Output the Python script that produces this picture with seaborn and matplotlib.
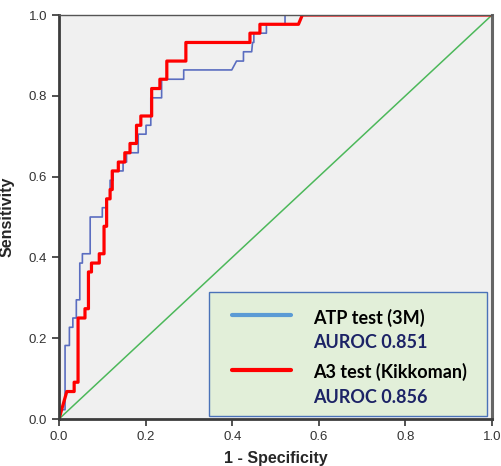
import numpy as np
import pandas as pd
import seaborn as sns
import matplotlib.pyplot as plt
from matplotlib.patches import Rectangle
from matplotlib.lines import Line2D

# ROC curve vertices (1 - specificity, sensitivity)
atp_fpr = [0.0, 0.0, 0.014, 0.014, 0.024, 0.024, 0.032, 0.032, 0.040, 0.040,
           0.048, 0.048, 0.054, 0.054, 0.072, 0.072, 0.100, 0.100, 0.109, 0.109,
           0.118, 0.118, 0.125, 0.125, 0.148, 0.148, 0.156, 0.156, 0.183, 0.183,
           0.201, 0.201, 0.212, 0.212, 0.237, 0.237, 0.288, 0.288, 0.399, 0.410,
           0.426, 0.426, 0.445, 0.447, 0.450, 0.450, 0.479, 0.479, 0.522, 0.522,
           1.0]
atp_tpr = [0.0, 0.023, 0.023, 0.182, 0.182, 0.227, 0.227, 0.250, 0.250, 0.295,
           0.295, 0.386, 0.386, 0.409, 0.409, 0.500, 0.500, 0.523, 0.523, 0.545,
           0.545, 0.591, 0.591, 0.614, 0.614, 0.636, 0.636, 0.659, 0.659, 0.705,
           0.705, 0.727, 0.727, 0.795, 0.795, 0.841, 0.841, 0.864, 0.864, 0.886,
           0.886, 0.909, 0.909, 0.932, 0.932, 0.955, 0.955, 0.977, 0.977, 1.0,
           1.0]

a3_fpr = [0.0, 0.018, 0.035, 0.035, 0.044, 0.044, 0.060, 0.060, 0.068, 0.068,
          0.075, 0.075, 0.093, 0.093, 0.104, 0.104, 0.110, 0.110, 0.118, 0.118,
          0.123, 0.123, 0.137, 0.137, 0.152, 0.152, 0.164, 0.164, 0.179, 0.179,
          0.189, 0.189, 0.214, 0.214, 0.233, 0.233, 0.249, 0.249, 0.293, 0.293,
          0.441, 0.441, 0.464, 0.464, 0.553, 0.562, 1.0]
a3_tpr = [0.0, 0.068, 0.068, 0.091, 0.091, 0.250, 0.250, 0.273, 0.273, 0.364,
          0.364, 0.386, 0.386, 0.409, 0.409, 0.477, 0.477, 0.545, 0.545, 0.568,
          0.568, 0.614, 0.614, 0.636, 0.636, 0.659, 0.659, 0.682, 0.682, 0.727,
          0.727, 0.750, 0.750, 0.818, 0.818, 0.841, 0.841, 0.886, 0.886, 0.932,
          0.932, 0.955, 0.955, 0.977, 0.977, 1.0, 1.0]

ref_line = [0.0, 1.0]

labels = ["ATP test (3M)", "A3 test (Kikkoman)"]
auroc = ["AUROC 0.851", "AUROC 0.856"]
ticks = [0.0, 0.2, 0.4, 0.6, 0.8, 1.0]

df_atp = pd.DataFrame({"fpr": atp_fpr, "tpr": atp_tpr})
df_a3 = pd.DataFrame({"fpr": a3_fpr, "tpr": a3_tpr})
df_ref = pd.DataFrame({"fpr": ref_line, "tpr": ref_line})

sns.set_style("white")
plt.rcParams["font.family"] = ["Liberation Sans", "DejaVu Sans"]

fig = plt.figure(figsize=(5.02, 4.66), dpi=100)
ax = fig.add_axes([59 / 502, 47 / 466, 433 / 502, 404 / 466])
ax.set_facecolor("#f0f0f0")

sns.lineplot(data=df_ref, x="fpr", y="tpr", ax=ax, color="#4cb85a",
             linewidth=1.1, sort=False, estimator=None)
sns.lineplot(data=df_atp, x="fpr", y="tpr", ax=ax, color="#5a6dc0",
             linewidth=1.2, sort=False, estimator=None)
sns.lineplot(data=df_a3, x="fpr", y="tpr", ax=ax, color="#ff0000",
             linewidth=2.3, sort=False, estimator=None)

ax.set_xlim(0, 1)
ax.set_ylim(0, 1)
ax.set_xticks(ticks)
ax.set_yticks(ticks)
ax.set_xticklabels([f"{t:.1f}" for t in ticks])
ax.set_yticklabels([f"{t:.1f}" for t in ticks])
ax.tick_params(direction="out", length=5, width=1.2, color="#333333",
               labelsize=9.5, labelcolor="#333333", bottom=True, left=True)
ax.set_xlabel("1 - Specificity", fontsize=11.5, fontweight="bold", labelpad=6)
ax.set_ylabel("Sensitivity", fontsize=11.5, fontweight="bold", labelpad=10)

for side in ["left", "bottom"]:
    ax.spines[side].set_linewidth(2)
    ax.spines[side].set_color("#3c3c3c")
ax.spines["top"].set_linewidth(1)
ax.spines["top"].set_color("#555555")
ax.spines["right"].set_linewidth(2.2)
ax.spines["right"].set_color("#666666")

# custom legend box
box = Rectangle((0.346, 0.007), 0.642, 0.307, transform=ax.transAxes,
                facecolor="#e2efd9", edgecolor="#4a72b8", linewidth=1.0,
                zorder=5)
ax.add_patch(box)
line_colors = ["#5b9bd5", "#ff0000"]
line_y = [0.257, 0.121]
text_y = [0.250, 0.189, 0.116, 0.054]
for i in range(2):
    ax.add_line(Line2D([0.400, 0.535], [line_y[i], line_y[i]],
                       transform=ax.transAxes, color=line_colors[i],
                       linewidth=3, zorder=6))
    ax.text(0.586, text_y[2 * i], labels[i], transform=ax.transAxes,
            fontsize=13, fontweight="bold", color="black", va="center",
            family=["Lato", "DejaVu Sans"], zorder=6)
    ax.text(0.586, text_y[2 * i + 1], auroc[i], transform=ax.transAxes,
            fontsize=13, fontweight="bold", color="#1c2366", va="center",
            family=["Lato", "DejaVu Sans"], zorder=6)

fig.savefig("out.png", dpi=100)
